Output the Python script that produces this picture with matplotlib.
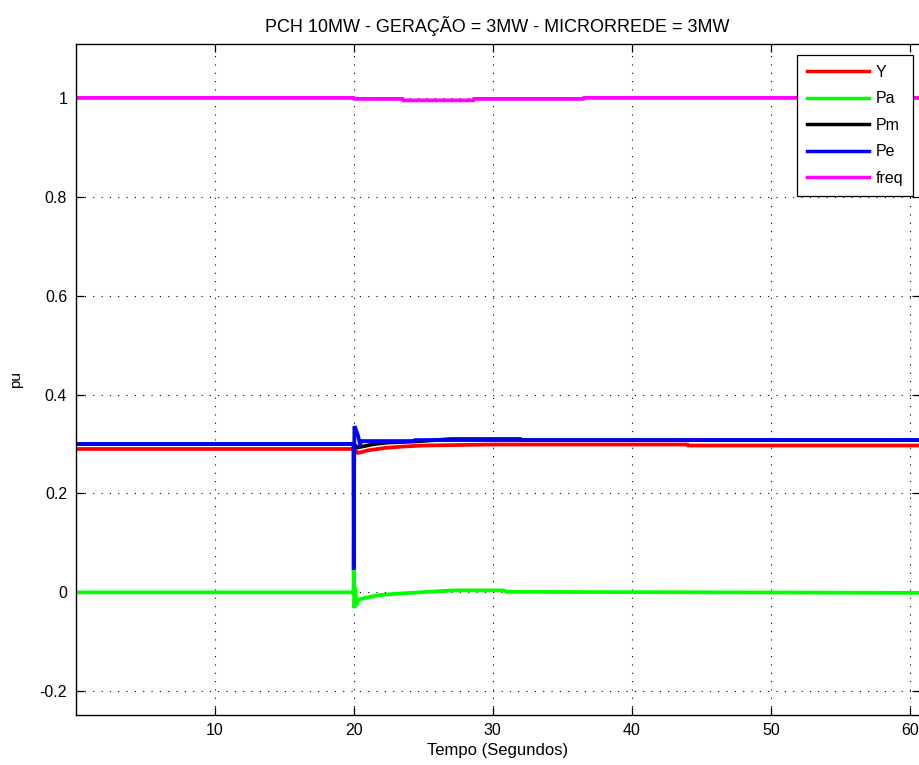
import matplotlib
matplotlib.use("Agg")
import matplotlib.pyplot as plt

plt.rcParams['font.family'] = ['Liberation Sans', 'DejaVu Sans']

# Series (time in s, values in pu)
t_y = [0, 20.0, 20.3, 21.0, 22.2, 23.6, 25.0, 30.0, 44.0, 44.05, 60.7]
y_vals = [0.290, 0.290, 0.282, 0.287, 0.292, 0.295, 0.297, 0.299, 0.299, 0.297, 0.297]

t_pa = [0, 19.98, 20.0, 20.05, 20.1, 20.2, 20.35, 20.7, 21.7, 22.9, 24.7, 27.2, 30.8, 31.0, 47.0, 60.7]
pa_vals = [0.0, 0.0, 0.046, -0.032, 0.010, -0.025, -0.015, -0.012, -0.006, -0.003, 0.0, 0.004, 0.004, 0.001, 0.0, -0.001]

t_pm = [0, 20.0, 20.3, 20.8, 21.5, 22.5, 24.3, 27.0, 32.0, 32.1, 60.7]
pm_vals = [0.300, 0.300, 0.293, 0.296, 0.300, 0.303, 0.305, 0.310, 0.310, 0.308, 0.308]

t_pe = [0, 19.98, 20.0, 20.05, 20.15, 20.3, 20.45, 20.6, 21.0, 24.3, 24.4, 60.7]
pe_vals = [0.300, 0.300, 0.046, 0.336, 0.330, 0.318, 0.300, 0.306, 0.306, 0.306, 0.308, 0.308]

t_freq = [0, 20.0, 20.05, 23.5, 23.55, 28.6, 28.65, 36.5, 36.55, 60.7]
freq_vals = [1.0, 1.0, 0.998, 0.998, 0.995, 0.995, 0.998, 0.998, 1.0, 1.0]

labels = ['Y', 'Pa', 'Pm', 'Pe', 'freq']
colors = ['#ff0000', '#00ff00', '#000000', '#0000ff', '#ff00ff']

fig = plt.figure(figsize=(9.19, 7.65), dpi=100, facecolor='white')
# right edge of the axes sits just past the figure border
ax = fig.add_axes([75.5 / 919, 50 / 765, 844.3 / 919, 671 / 765])

series = [(t_y, y_vals), (t_pa, pa_vals), (t_pm, pm_vals), (t_pe, pe_vals), (t_freq, freq_vals)]
for (t, v), lab, c in zip(series, labels, colors):
    ax.plot(t, v, color=c, lw=2.7, label=lab, solid_joinstyle='miter')

ax.set_xlim(0, 60.7)
ax.set_ylim(-0.248, 1.109)
ax.set_xticks([10, 20, 30, 40, 50, 60])
ax.set_yticks([-0.2, 0, 0.2, 0.4, 0.6, 0.8, 1])
ax.set_yticklabels(['-0.2', '0', '0.2', '0.4', '0.6', '0.8', '1'])
ax.tick_params(direction='in', top=True, right=True, length=6, width=0.9,
               labelsize=11.5, pad=6)
ax.grid(True, color='black', linestyle=(0, (1, 6.5)), linewidth=0.8)
for sp in ax.spines.values():
    sp.set_linewidth(1.0)

ax.set_title('PCH 10MW - GERAÇÃO = 3MW - MICRORREDE = 3MW', fontsize=13, pad=9)
ax.set_xlabel('Tempo (Segundos)', fontsize=12, labelpad=3)
ax.set_ylabel('pu', fontsize=11, labelpad=12)

leg = ax.legend(loc='upper right', bbox_to_anchor=(0.992, 0.984), borderaxespad=0,
                fontsize=11.5, handlelength=3.9, handletextpad=0.4,
                labelspacing=0.72, borderpad=0.62, fancybox=False, framealpha=1,
                edgecolor='black')
leg.get_frame().set_linewidth(0.9)
for h in leg.get_lines():
    h.set_linewidth(2.5)

fig.savefig('out.png', dpi=100, facecolor='white')
